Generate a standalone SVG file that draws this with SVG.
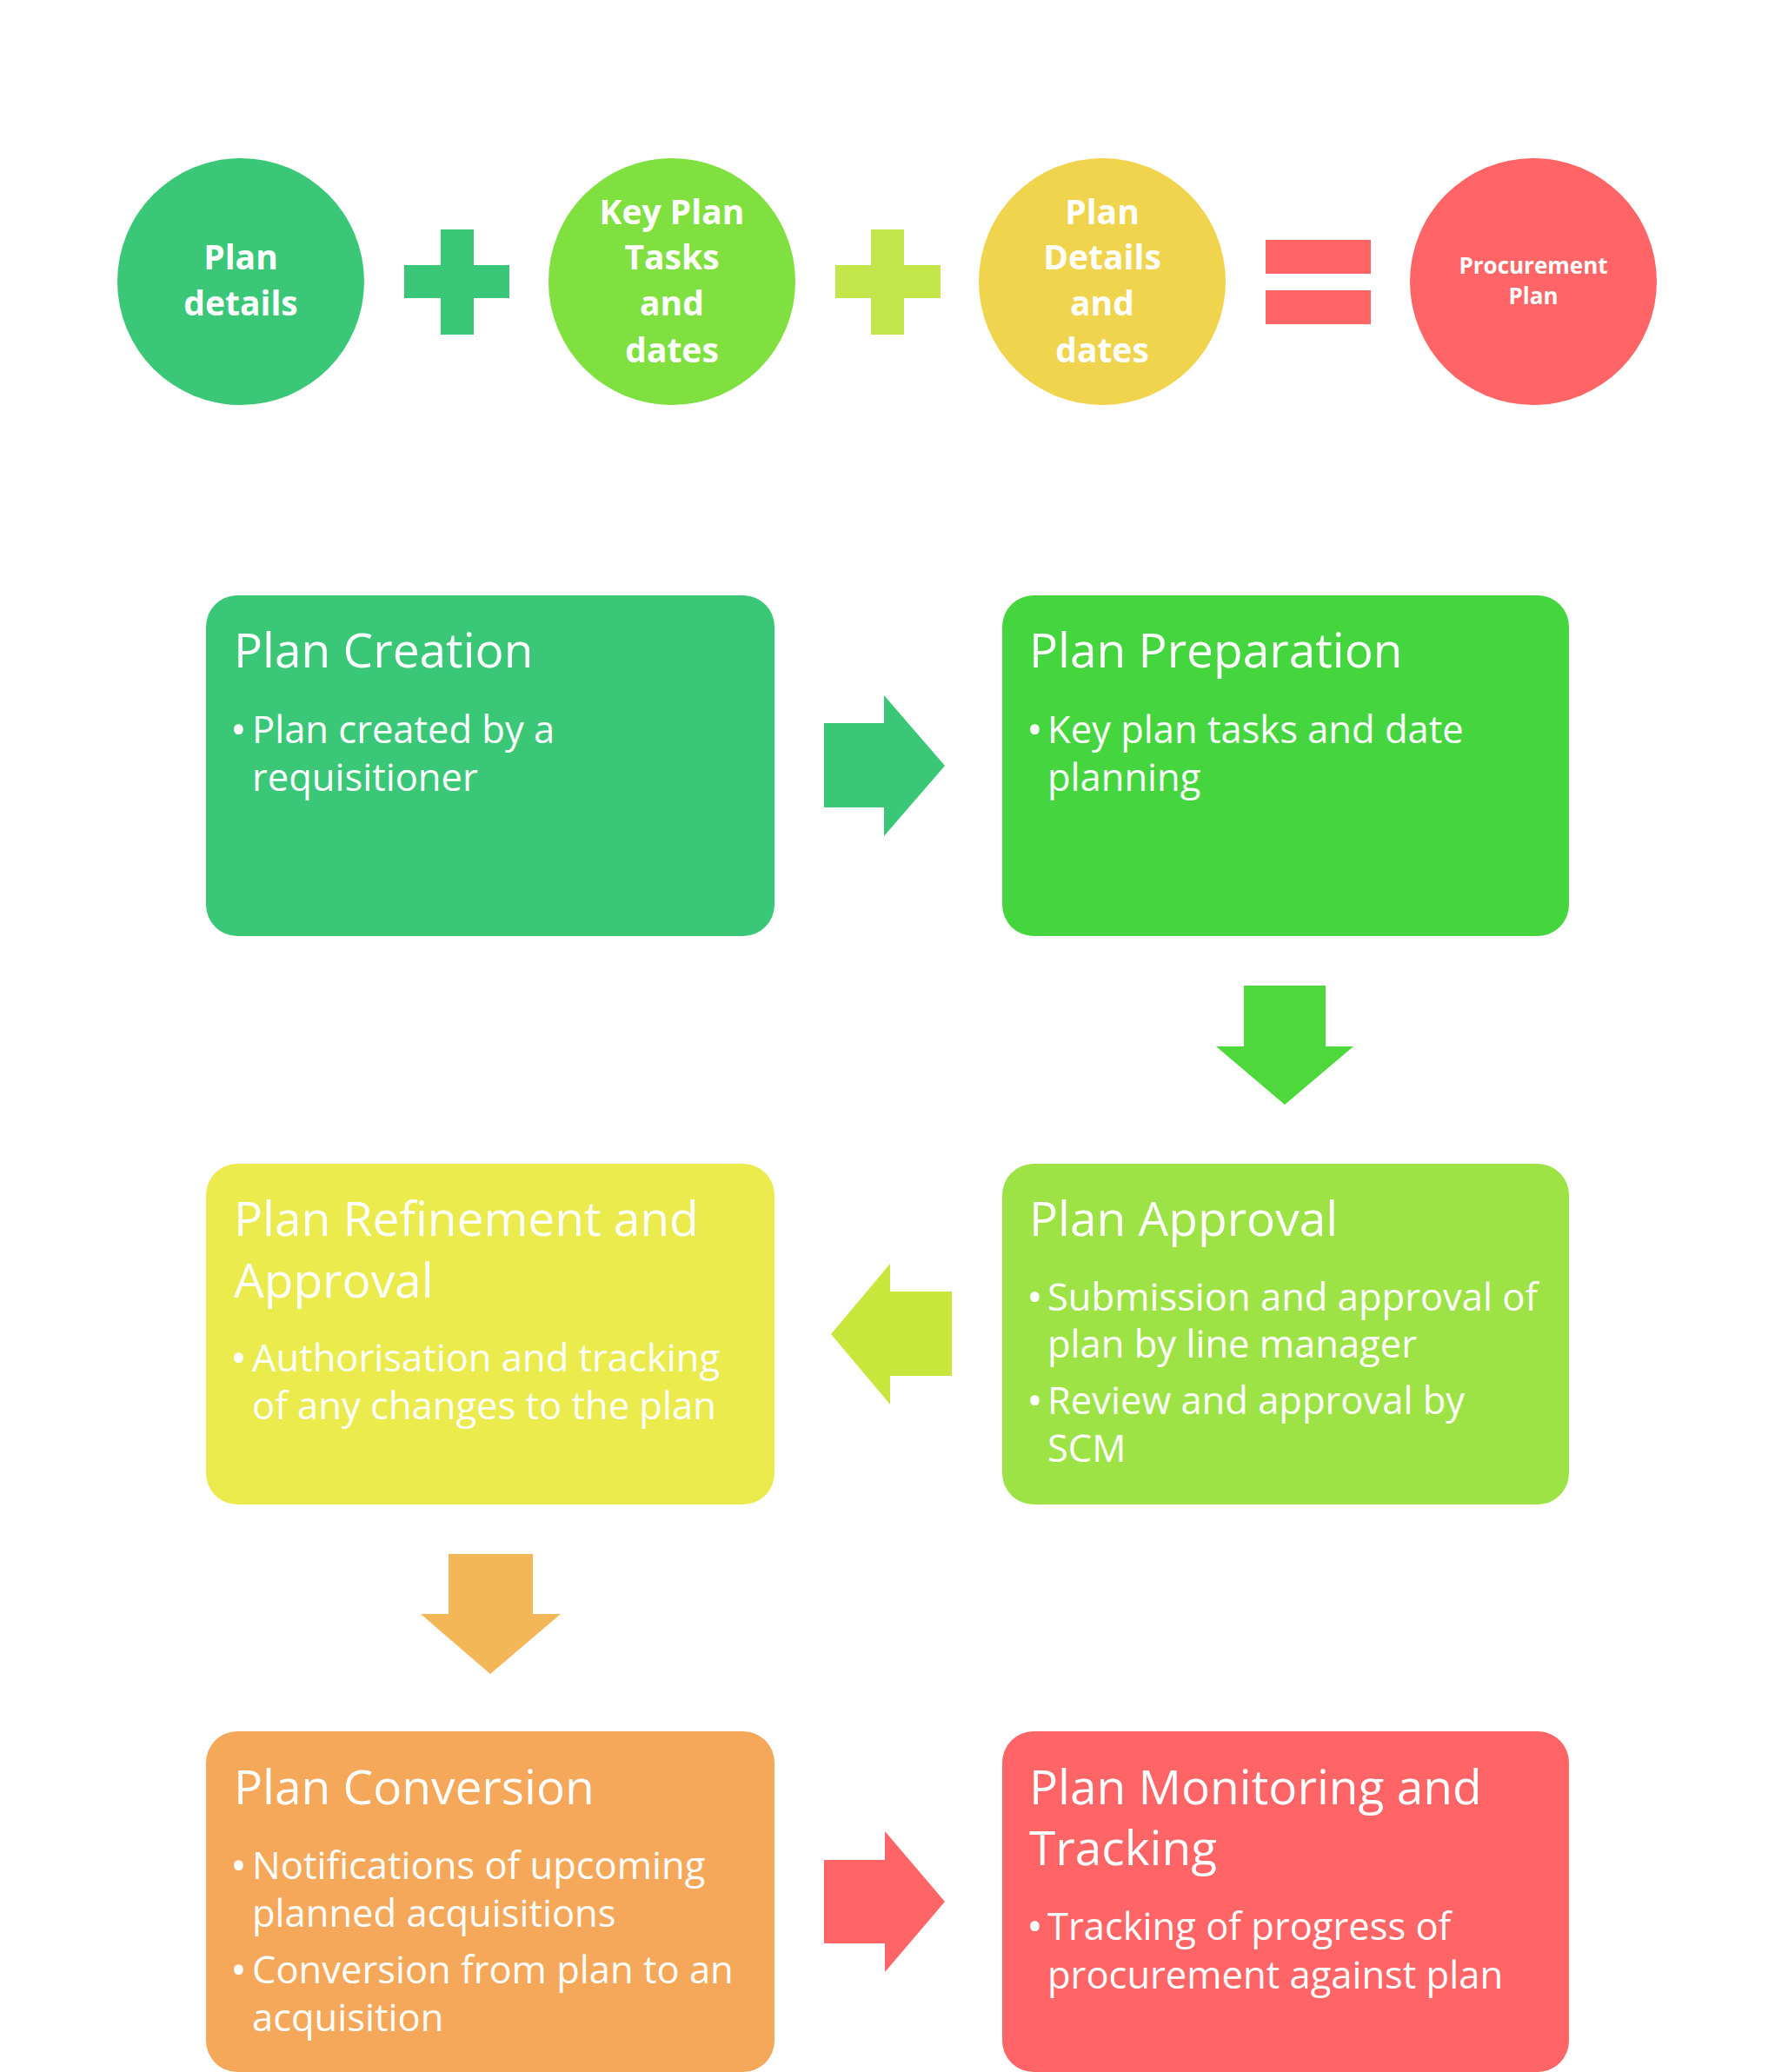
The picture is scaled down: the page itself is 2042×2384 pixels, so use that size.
<svg xmlns="http://www.w3.org/2000/svg" width="2042" height="2384" viewBox="0 0 2042 2384">
<style>
.ct{font-family:"Open Sans","Noto Sans",sans-serif;font-weight:bold;fill:#fff;text-anchor:middle}
.big{font-size:39px}
.small{font-size:26px}
.tt{font-family:"Open Sans","Noto Sans",sans-serif;fill:#fff;font-size:55px}
.bt{font-family:"Open Sans","Noto Sans",sans-serif;fill:#fff;font-size:43.5px}
.bu{font-family:"Open Sans","Noto Sans",sans-serif;fill:#fff;font-size:50px}
</style>
<rect width="2042" height="2384" fill="#fff"/>

<g id="circle-plan-details">
<circle cx="277" cy="324" r="142" fill="#3AC878"/>
<text class="ct big" x="277" y="310">Plan</text>
<text class="ct big" x="277" y="363">details</text>
</g>
<g id="plus-1">
<path d="M507 264H545V305H586V343H545V385H507V343H465V305H507Z" fill="#3AC878"/>
</g>
<g id="circle-key-plan">
<circle cx="773" cy="324" r="142" fill="#7FE040"/>
<text class="ct big" x="773" y="258">Key Plan</text>
<text class="ct big" x="773" y="310">Tasks</text>
<text class="ct big" x="773" y="363">and</text>
<text class="ct big" x="773" y="417">dates</text>
</g>
<g id="plus-2">
<path d="M1002 264H1040V305H1082V343H1040V385H1002V343H961V305H1002Z" fill="#C3E64A"/>
</g>
<g id="circle-plan-details-dates">
<circle cx="1268" cy="324" r="142" fill="#F0D44E"/>
<text class="ct big" x="1268" y="258">Plan</text>
<text class="ct big" x="1268" y="310">Details</text>
<text class="ct big" x="1268" y="363">and</text>
<text class="ct big" x="1268" y="417">dates</text>
</g>
<g id="equals">
<rect x="1456" y="276" width="121" height="39" fill="#FF6566"/>
<rect x="1456" y="334" width="121" height="39" fill="#FF6566"/>
</g>
<g id="circle-procurement-plan">
<circle cx="1764" cy="324" r="142" fill="#FF6566"/>
<text class="ct small" x="1764" y="315">Procurement</text>
<text class="ct small" x="1764" y="350">Plan</text>
</g>

<g id="plan-creation">
<rect x="237" y="685" width="654" height="392" rx="36" fill="#3AC878"/>
<text class="tt" x="269" y="768">Plan Creation</text>
<text class="bu" x="265" y="857">•</text>
<text class="bt" x="290" y="855">Plan created by a</text>
<text class="bt" x="290" y="910">requisitioner</text>
</g>
<g id="plan-preparation">
<rect x="1153" y="685" width="652" height="392" rx="36" fill="#45D63F"/>
<text class="tt" x="1184" y="768">Plan Preparation</text>
<text class="bu" x="1181" y="857">•</text>
<text class="bt" x="1205" y="855">Key plan tasks and date</text>
<text class="bt" x="1205" y="910">planning</text>
</g>
<g id="plan-refinement">
<rect x="237" y="1339" width="654" height="392" rx="36" fill="#EBEB4E"/>
<text class="tt" x="269" y="1422">Plan Refinement and</text>
<text class="tt" x="269" y="1493">Approval</text>
<text class="bu" x="265" y="1580">•</text>
<text class="bt" x="290" y="1578">Authorisation and tracking</text>
<text class="bt" x="290" y="1633">of any changes to the plan</text>
</g>
<g id="plan-approval">
<rect x="1153" y="1339" width="652" height="392" rx="36" fill="#9EE346"/>
<text class="tt" x="1184" y="1422">Plan Approval</text>
<text class="bu" x="1181" y="1510">•</text>
<text class="bt" x="1205" y="1508">Submission and approval of</text>
<text class="bt" x="1205" y="1562">plan by line manager</text>
<text class="bu" x="1181" y="1629">•</text>
<text class="bt" x="1205" y="1627">Review and approval by</text>
<text class="bt" x="1205" y="1682">SCM</text>
</g>
<g id="plan-conversion">
<rect x="237" y="1992" width="654" height="392" rx="36" fill="#F5A85A"/>
<text class="tt" x="269" y="2076">Plan Conversion</text>
<text class="bu" x="265" y="2164">•</text>
<text class="bt" x="290" y="2162">Notifications of upcoming</text>
<text class="bt" x="290" y="2217">planned acquisitions</text>
<text class="bu" x="265" y="2284">•</text>
<text class="bt" x="290" y="2282">Conversion from plan to an</text>
<text class="bt" x="290" y="2337">acquisition</text>
</g>
<g id="plan-monitoring">
<rect x="1153" y="1992" width="652" height="392" rx="36" fill="#FF6566"/>
<text class="tt" x="1184" y="2076">Plan Monitoring and</text>
<text class="tt" x="1184" y="2146">Tracking</text>
<text class="bu" x="1181" y="2234">•</text>
<text class="bt" x="1205" y="2232">Tracking of progress of</text>
<text class="bt" x="1205" y="2288">procurement against plan</text>
</g>

<g id="connectors">
<path d="M948 832H1017V800L1087 881L1017 962V929H948Z" fill="#3AC878"/>
<path d="M1431 1134H1525V1204H1557L1478 1271L1399 1204H1431Z" fill="#4FD83C"/>
<path d="M1095 1486H1024V1454L956 1535L1024 1616V1583H1095Z" fill="#C8E63C"/>
<path d="M516 1788H613V1857H645L564 1926L484 1857H516Z" fill="#F3B757"/>
<path d="M948 2140H1018V2107L1087 2188L1018 2269V2236H948Z" fill="#FF6566"/>
</g>
</svg>
